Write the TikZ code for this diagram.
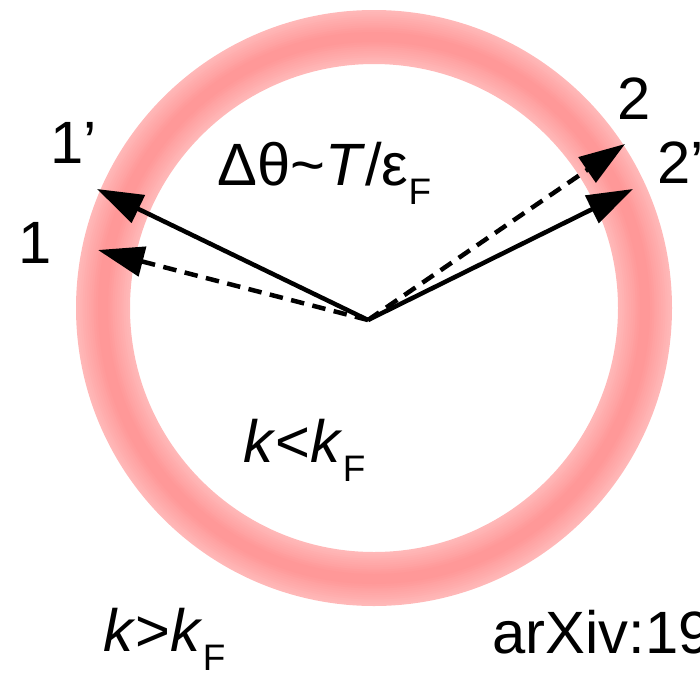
\documentclass[tikz,border=0pt]{standalone}
\usepackage{fontspec}
\setmainfont{Liberation Sans}
\usetikzlibrary{arrows.meta}
\definecolor{ringedge}{RGB}{255,184,184}
\definecolor{ringmid}{RGB}{255,152,152}
\newcommand{\subF}{\raisebox{-0.33em}{\fontsize{21}{24}\selectfont F}}
\tikzset{
  lbl/.style={anchor=base west,inner sep=0pt,font=\fontsize{34}{40}\selectfont},
  kvec/.style={line width=0.09cm,-{Triangle[length=0.92cm,width=0.6cm]}},
  kvecdash/.style={kvec,dash pattern=on 0.27cm off 0.17cm}
}
\begin{document}
\begin{tikzpicture}[x=0.02cm,y=-0.02cm]
                \useasboundingbox(0,0)rectangle(700,673);
                \clip(0,0)rectangle(700,673);
                % Fermi ring, darker in the middle
                \foreach \i in {0,1,...,10}
                \draw[line width={(54-4.4*\i)*0.02cm},color=ringmid!\i0!ringedge](374,308)circle(271);
                \coordinate(o)at(368,320);
                \coordinate(tipa)at(98,250);
                \coordinate(tipap)at(97,189);
                \coordinate(tipb)at(625,144);
                \coordinate(tipbp)at(633,189);
                \draw[kvecdash](o)--(tipa);
                \draw[kvec](o)--(tipap);
                \draw[kvecdash](o)--(tipb);
                \draw[kvec](o)--(tipbp);
                \node[lbl](la)at(18,263){1};
                \node[lbl](lap)at(50,163){1’};
                \node[lbl](lb)at(617,119){2};
                \node[lbl](lbp)at(657,183){2’};
                \node[lbl](dth)at(217,185){Δθ\textasciitilde\textit{T}/ε\subF};
                \node[lbl](kin)at(243,462){\textit{k}<\textit{k}\subF};
                \node[lbl](kout)at(103,651){\textit{k}>\textit{k}\subF};
                \node[lbl](ref)at(492,653){arXiv:19};
                \end{tikzpicture}
\end{document}
